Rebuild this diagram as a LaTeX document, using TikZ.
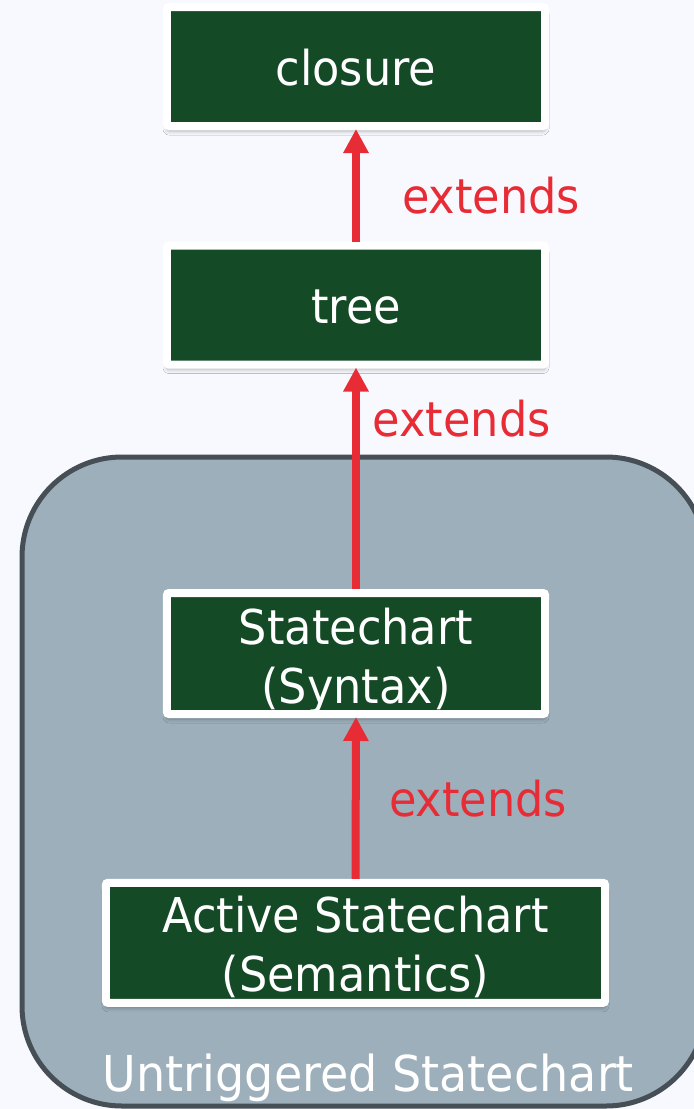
\documentclass[tikz,border=0pt]{standalone}
\usepackage{fontspec}
\setmainfont{DejaVu Sans}[FakeStretch=0.93]
\usetikzlibrary{arrows.meta,shadows.blur}
\definecolor{pagebg}{HTML}{F8F9FE}
\definecolor{boxgreen}{HTML}{144A25}
\definecolor{extred}{HTML}{E82C36}
\definecolor{groupfill}{HTML}{9DAFBB}
\definecolor{groupline}{HTML}{464E56}
\tikzset{
  classbox/.style={draw=white, fill=boxgreen, line width=8bp, rounded corners=2bp,
    inner sep=0pt, text=white, align=center, text depth=0pt,
    font=\fontsize{48bp}{59bp}\selectfont,
    blur shadow={shadow xshift=0bp, shadow yshift=-5bp, shadow blur radius=4bp, shadow opacity=30}},
  extarrow/.style={draw=extred, line width=8bp, -{Triangle[width=24bp,length=24bp]}, shorten >=-1bp},
  extlabel/.style={text=extred, anchor=base west, inner sep=0pt,
    font=\fontsize{48bp}{56bp}\selectfont},
  groupbox/.style={draw=groupline, fill=groupfill, line width=5bp, rounded corners=100bp}
}
\begin{document}
\begin{tikzpicture}[x=1bp,y=-1bp]
  \fill[pagebg] (0,0) rectangle (694,1109);
  \useasboundingbox (0,0) rectangle (694,1109);

  % grouping region for the untriggered statechart layer
  \draw[groupbox] (22,457) rectangle (706,1106);
  \node[text=white, anchor=base, inner sep=0pt, font=\fontsize{49.5bp}{56bp}\selectfont]
    (grouplabel) at (368.5,1091) {Untriggered Statechart};

  % class boxes (text height = twice the drop from centre to last baseline)
  \node[classbox, minimum width=378bp, minimum height=119bp, text height=37bp]
    (closure) at (356,66.5) {closure};
  \node[classbox, minimum width=378bp, minimum height=119bp, text height=36bp]
    (tree) at (356,305) {tree};
  \node[classbox, minimum width=378bp, minimum height=121bp, text height=99bp]
    (syntax) at (356,653.5) {Statechart\\(Syntax)};
  \node[classbox, minimum width=499bp, minimum height=120bp, text height=98bp]
    (active) at (355.5,942.8) {Active Statechart\\(Semantics)};

  % inheritance arrows
  \draw[extarrow] (tree.north) -- (closure.south);
  \draw[extarrow] (syntax.north) -- (tree.south);
  \draw[extarrow] (active.north) -- (syntax.south);

  \node[extlabel] (ext1) at (402,213) {extends};
  \node[extlabel] (ext2) at (372.5,436.7) {extends};
  \node[extlabel] (ext3) at (389,816.7) {extends};
\end{tikzpicture}
\end{document}
